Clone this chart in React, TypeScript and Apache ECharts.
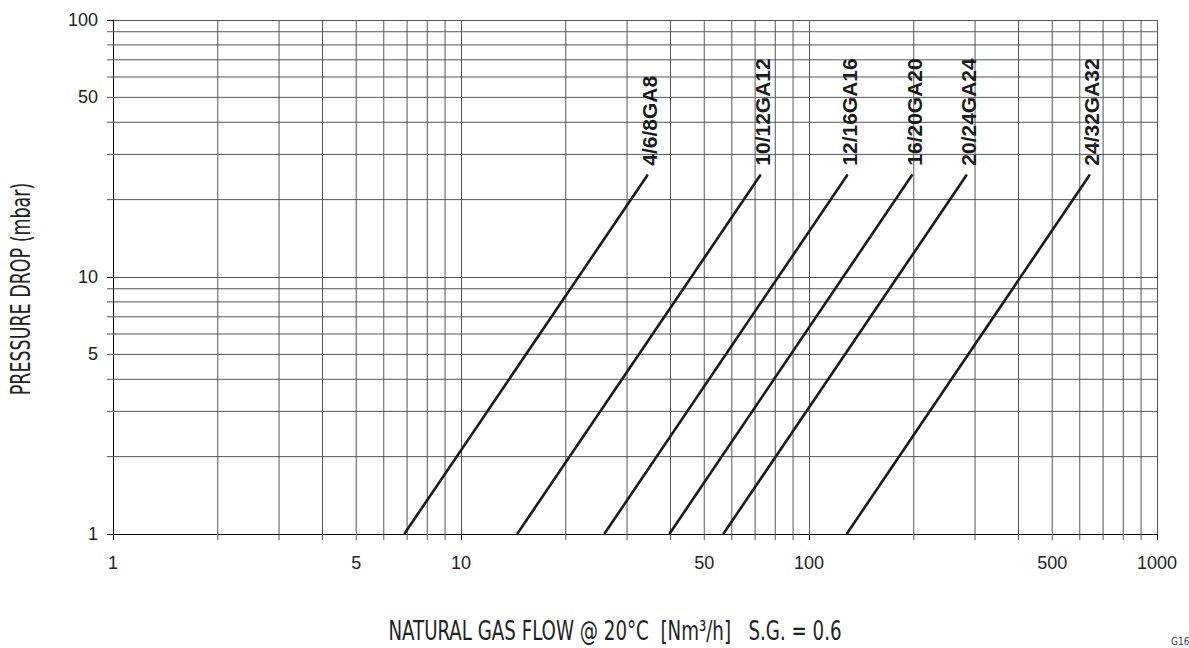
import React, { useEffect, useRef } from "react";
import * as echarts from "echarts";

// ---- data ----
const seriesNames = ["4/6/8GA8", "10/12GA12", "12/16GA16", "16/20GA20", "20/24GA24", "24/32GA32"];
// flow (Nm3/h) read at the two ends of each line
const flowAt1mbar = [6.87, 14.5, 25.8, 39.7, 56.7, 128.3];
const flowAt25mbar = [34.4, 72.6, 129, 198, 284, 641];
const pressureEnds = [1, 25];

const xMin = 1;
const xMax = 1000;
const yMin = 1;
const yMax = 100;
const xMinorValues = [2, 3, 4, 5, 6, 7, 8, 9, 20, 30, 40, 50, 60, 70, 80, 90, 200, 300, 400, 500, 600, 700, 800, 900];
const yMinorValues = [2, 3, 4, 5, 6, 7, 8, 9, 20, 30, 40, 50, 60, 70, 80, 90];
const xExtraLabels = [5, 50, 500];
const yExtraLabels = [5, 50];

const xTitle = "NATURAL GAS FLOW @ 20°C  [Nm³/h]   S.G. = 0.6";
const yTitle = "PRESSURE DROP (mbar)";
const cornerCode = "G16";

const SANS = '"Liberation Sans", Arial, Helvetica, sans-serif';
const NARROW = '"DejaVu Sans Condensed", "DejaVu Sans", sans-serif';
const GRID_COLOR = "#555";
const TEXT_COLOR = "#222";

export default function App() {
  const ref = useRef<HTMLDivElement>(null);

  useEffect(() => {
    if (!ref.current) return;
    const chart = echarts.init(ref.current, undefined, { renderer: "svg" });

    const minorData: number[][] = [
      ...xMinorValues.map((v) => [v, yMin, 0]),
      ...yMinorValues.map((v) => [xMin, v, 1]),
    ];

    const lineSeries = seriesNames.map((name, i) => ({
      type: "line",
      name,
      data: [
        [flowAt1mbar[i], pressureEnds[0]],
        { value: [flowAt25mbar[i], pressureEnds[1]], label: { show: true } },
      ],
      symbol: "circle",
      symbolSize: 1,
      showSymbol: true,
      itemStyle: { color: "#1a1a1a" },
      lineStyle: { color: "#1a1a1a", width: 2.6 },
      label: {
        show: false,
        formatter: name,
        rotate: 90,
        position: [2.5, -8.5],
        align: "left",
        verticalAlign: "middle",
        fontSize: 21,
        fontWeight: "bold",
        fontFamily: SANS,
        color: "#1a1a1a",
      },
      emphasis: { disabled: true },
      silent: true,
      z: 5,
    }));

    const option: any = {
      animation: false,
      backgroundColor: "#fff",
      grid: { left: 113, right: 32, top: 20, bottom: 114, containLabel: false, outerBoundsMode: "none" },
      xAxis: {
        type: "log",
        logBase: 10,
        min: xMin,
        max: xMax,
        axisLine: { show: true, onZero: false, lineStyle: { color: "#000", width: 1 } },
        axisTick: { show: true, length: 6, lineStyle: { color: "#000", width: 1 } },
        axisLabel: {
          fontSize: 18,
          fontFamily: SANS,
          color: TEXT_COLOR,
          margin: 20,
          formatter: (v: number) => String(Math.round(v)),
        },
        splitLine: { show: true, lineStyle: { color: GRID_COLOR, width: 1 } },
        minorTick: { show: false },
        minorSplitLine: { show: false },
      },
      yAxis: {
        type: "log",
        logBase: 10,
        min: yMin,
        max: yMax,
        axisLine: { show: true, onZero: false, lineStyle: { color: "#000", width: 1 } },
        axisTick: { show: true, length: 6, lineStyle: { color: "#000", width: 1 } },
        axisLabel: {
          fontSize: 18,
          fontFamily: SANS,
          color: TEXT_COLOR,
          margin: 15,
          formatter: (v: number) => String(Math.round(v)),
        },
        splitLine: { show: true, lineStyle: { color: GRID_COLOR, width: 1 } },
      },
      graphic: [
        {
          type: "text",
          x: 615,
          y: 631,
          scaleX: 0.78,
          silent: true,
          style: {
            text: xTitle,
            fontSize: 26,
            fontFamily: NARROW,
            fill: TEXT_COLOR,
            align: "center",
            verticalAlign: "middle",
          },
        },
        {
          type: "text",
          x: 21,
          y: 289,
          rotation: Math.PI / 2,
          scaleX: 0.72,
          silent: true,
          style: {
            text: yTitle,
            fontSize: 27,
            fontFamily: NARROW,
            fill: TEXT_COLOR,
            align: "center",
            verticalAlign: "middle",
          },
        },
        {
          type: "text",
          x: 1171,
          y: 636,
          silent: true,
          style: { text: cornerCode, fontSize: 10, fontFamily: NARROW, fill: "#444", align: "left", verticalAlign: "top" },
        },
      ],
      series: [
        {
          type: "custom",
          name: "minor grid",
          data: minorData,
          clip: false,
          silent: true,
          z: 1,
          encode: { x: 0, y: 1 },
          renderItem: (params: any, api: any) => {
            const cs = params.coordSys;
            const top = cs.y;
            const bottom = cs.y + cs.height;
            const left = cs.x;
            const right = cs.x + cs.width;
            const kind = api.value(2);
            const children: any[] = [];
            if (kind === 0) {
              const v = api.value(0);
              const px = api.coord([v, yMin])[0];
              children.push({
                type: "line",
                shape: { x1: px, y1: bottom + 6, x2: px, y2: top },
                style: { stroke: GRID_COLOR, lineWidth: 1 },
              });
              if (xExtraLabels.indexOf(v) >= 0) {
                children.push({
                  type: "text",
                  x: px,
                  y: bottom + 20,
                  style: {
                    text: String(v),
                    fontSize: 18,
                    fontFamily: SANS,
                    fill: TEXT_COLOR,
                    align: "center",
                    verticalAlign: "top",
                  },
                });
              }
            } else {
              const v = api.value(1);
              const py = api.coord([xMin, v])[1];
              children.push({
                type: "line",
                shape: { x1: left - 6, y1: py, x2: right, y2: py },
                style: { stroke: GRID_COLOR, lineWidth: 1 },
              });
              if (yExtraLabels.indexOf(v) >= 0) {
                children.push({
                  type: "text",
                  x: left - 15,
                  y: py,
                  style: {
                    text: String(v),
                    fontSize: 18,
                    fontFamily: SANS,
                    fill: TEXT_COLOR,
                    align: "right",
                    verticalAlign: "middle",
                  },
                });
              }
            }
            return { type: "group", children };
          },
        },
        ...lineSeries,
      ],
    };

    chart.setOption(option);
    return () => chart.dispose();
  }, []);

  return (
    <div
      ref={ref}
      style={{ position: "fixed", left: 0, top: 0, width: 1189, height: 648, background: "#fff" }}
    />
  );
}
